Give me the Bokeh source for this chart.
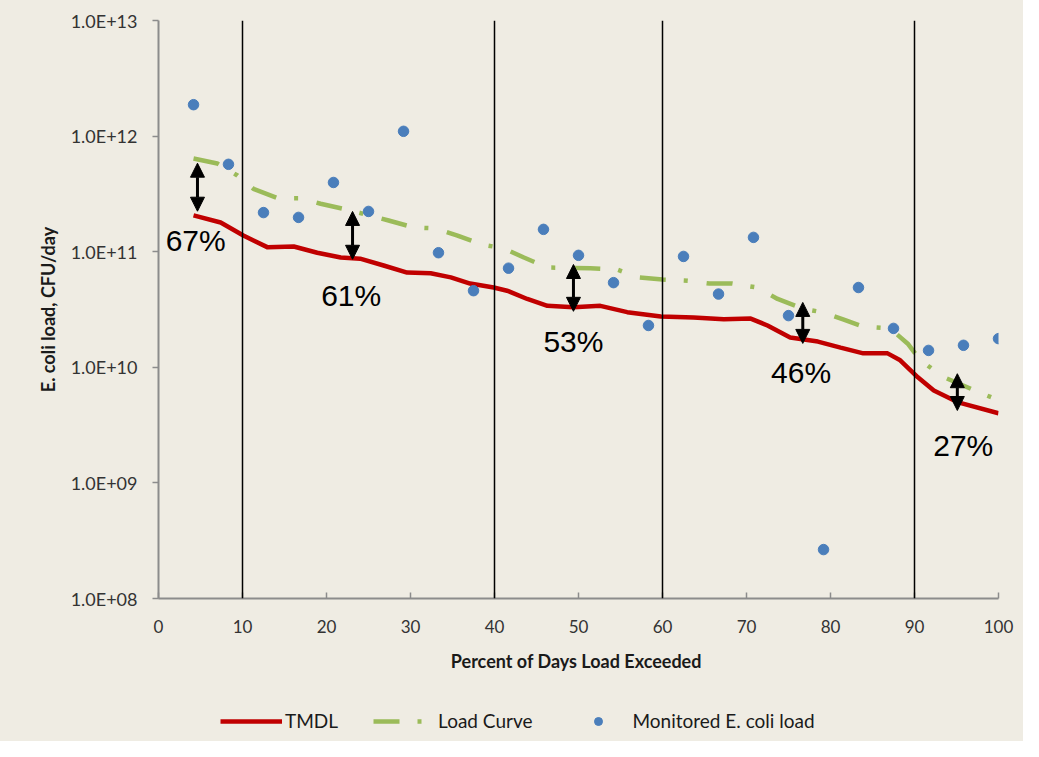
from bokeh.plotting import figure
from bokeh.layouts import column
from bokeh.models import (Span, Arrow, NormalHead, Legend, LegendItem,
                          FixedTicker, Range1d)
from bokeh.core.properties import value
from bokeh.embed import file_html
from bokeh.resources import INLINE

# ---------------- data ----------------
tmdl_x = [4.17, 7.4, 10.1, 13.0, 16.1, 18.9, 21.7, 24.0, 26.8, 29.6, 32.4, 34.8,
          37.1, 39.9, 41.5, 43.9, 46.3, 49.4, 52.6, 55.8, 59.8, 63.7, 67.3, 70.5,
          72.5, 75.2, 78.5, 81.2, 83.9, 86.8, 88.3, 90.4, 92.3, 95.1, 100]
tmdl_y = [2.06e11, 1.79e11, 1.38e11, 1.09e11, 1.11e11, 9.8e10, 8.9e10, 8.7e10,
          7.6e10, 6.6e10, 6.5e10, 6.0e10, 5.3e10, 4.9e10, 4.6e10, 3.9e10, 3.4e10,
          3.3e10, 3.4e10, 3.0e10, 2.75e10, 2.7e10, 2.6e10, 2.64e10, 2.3e10,
          1.81e10, 1.67e10, 1.48e10, 1.32e10, 1.32e10, 1.15e10, 8.2e9, 6.3e9,
          5.0e9, 4.0e9]

load_x = [4.17, 7.0, 9.4, 11.3, 14.2, 16.9, 19.3, 22.9, 27.4, 30.4, 33.0, 35.6,
          38.6, 41.1, 43.5, 46.3, 51.4, 54.6, 57.1, 60.0, 63.0, 65.6, 68.3, 71.3,
          73.7, 76.8, 79.0, 81.5, 83.9, 87.1, 89.2, 90.7, 93.5, 98.1, 100]
load_y = [6.4e11, 5.8e11, 4.56e11, 3.5e11, 2.9e11, 2.9e11, 2.6e11, 2.27e11,
          1.86e11, 1.62e11, 1.59e11, 1.38e11, 1.15e11, 1.07e11, 8.9e10, 7.3e10,
          7.2e10, 7.0e10, 6.0e10, 5.75e10, 5.6e10, 5.3e10, 5.3e10, 4.9e10,
          3.9e10, 3.2e10, 3.0e10, 2.6e10, 2.25e10, 2.17e10, 1.6e10, 1.15e10,
          8.2e9, 5.9e9, 5.2e9]

mon_x = [4.17, 8.33, 12.5, 16.67, 20.83, 25.0, 29.17, 33.33, 37.5, 41.67, 45.83,
         50.0, 54.17, 58.33, 62.5, 66.67, 70.83, 75.0, 79.17, 83.33, 87.5, 91.67,
         95.83, 100.0]
mon_y = [1.87e12, 5.7e11, 2.18e11, 1.98e11, 3.97e11, 2.23e11, 1.1e12, 9.8e10,
         4.6e10, 7.2e10, 1.56e11, 9.3e10, 5.4e10, 2.3e10, 9.1e10, 4.3e10, 1.33e11,
         2.8e10, 2.65e8, 4.9e10, 2.17e10, 1.4e10, 1.55e10, 1.77e10]

zone_bounds = [10, 40, 60, 90]

arrow_x = [4.64, 23.1, 49.4, 76.7, 95.1]
arrow_top = [5.83e11, 2.23e11, 7.75e10, 3.64e10, 8.8e9]
arrow_bottom = [2.24e11, 8.6e10, 3.05e10, 1.61e10, 4.23e9]

reduction_labels = ["67%", "61%", "53%", "46%", "27%"]
reduction_x = [4.43, 22.94, 49.4, 76.5, 95.8]
reduction_y = [1.25e11, 4.18e10, 1.68e10, 9.0e9, 2.11e9]

x_ticks = [0, 10, 20, 30, 40, 50, 60, 70, 80, 90, 100]
y_ticks = [1e8, 1e9, 1e10, 1e11, 1e12, 1e13]
y_tick_labels = ["1.0E+08", "1.0E+09", "1.0E+10", "1.0E+11", "1.0E+12", "1.0E+13"]

series_names = ["TMDL", "Load Curve", "Monitored E. coli load"]

# ---------------- style ----------------
BG = "#EFECE3"
FONT = "Lato"
RED = "#C00000"
GREEN = "#9BBB59"
BLUE = "#4A7EBB"
LOAD_DASH = "26 18 4 19"

p = figure(width=1023, height=690, y_axis_type="log",
           x_range=(0, 100), y_range=(1e8, 1e13),
           output_backend="svg", toolbar_location=None,
           background_fill_color=BG, border_fill_color=BG,
           min_border_left=158, min_border_right=25,
           min_border_top=20, min_border_bottom=92)
p.outline_line_color = None
p.grid.visible = False

# axes
p.xaxis.ticker = FixedTicker(ticks=x_ticks)
p.xaxis.minor_tick_line_color = None
p.xaxis.major_tick_in = 6
p.xaxis.major_tick_out = 0
p.xaxis.axis_line_color = "#8C8C8C"
p.xaxis.axis_line_width = 2
p.xaxis.major_tick_line_color = "#8C8C8C"
p.xaxis.major_tick_line_width = 1.5
p.xaxis.major_label_text_font = FONT
p.xaxis.major_label_text_font_size = "17px"
p.xaxis.major_label_text_color = "#333333"
p.xaxis.major_label_standoff = 21
p.xaxis.axis_label = "Percent of Days  Load Exceeded"
p.xaxis.axis_label_text_font = FONT
p.xaxis.axis_label_text_font_style = "bold"
p.xaxis.axis_label_text_font_size = "18px"
p.xaxis.axis_label_text_color = "#1a1a1a"
p.xaxis.axis_label_standoff = 14

p.yaxis.ticker = FixedTicker(ticks=y_ticks)
p.yaxis.major_label_overrides = {t: s for t, s in zip(y_ticks, y_tick_labels)}
p.yaxis.minor_tick_line_color = None
p.yaxis.major_tick_in = 0
p.yaxis.major_tick_out = 6
p.yaxis.axis_line_color = "#8C8C8C"
p.yaxis.axis_line_width = 2
p.yaxis.major_tick_line_color = "#8C8C8C"
p.yaxis.major_tick_line_width = 1.5
p.yaxis.major_label_text_font = FONT
p.yaxis.major_label_text_font_size = "18px"
p.yaxis.major_label_text_color = "#333333"
p.yaxis.major_label_standoff = 15
p.yaxis.axis_label = "E. coli load, CFU/day"
p.yaxis.axis_label_text_font = FONT
p.yaxis.axis_label_text_font_style = "bold"
p.yaxis.axis_label_text_font_size = "18px"
p.yaxis.axis_label_text_color = "#1a1a1a"
p.yaxis.axis_label_standoff = 9

# flow zone boundaries
for b in zone_bounds:
    p.add_layout(Span(location=b, dimension="height", line_color="black",
                      line_width=1.5))

# series
p.line(tmdl_x, tmdl_y, line_color=RED, line_width=4.5)
p.line(load_x, load_y, line_color=GREEN, line_width=4.5, line_dash=LOAD_DASH)
p.scatter(mon_x, mon_y, marker="circle", size=10.5,
          fill_color=BLUE, line_color=BLUE)

# reduction arrows
for ax, at, ab in zip(arrow_x, arrow_top, arrow_bottom):
    p.add_layout(Arrow(x_start=ax, y_start=ab, x_end=ax, y_end=at,
                       line_color="black", line_width=3,
                       start=NormalHead(size=14, fill_color="black", line_color="black"),
                       end=NormalHead(size=14, fill_color="black", line_color="black")))

p.text(reduction_x, reduction_y, text=reduction_labels,
       text_font=value("Liberation Sans"), text_font_size="30px",
       text_align="center", text_baseline="alphabetic", text_color="black")

# ---------------- legend strip (frame aligned with the chart) ----------------
lg = figure(width=1023, height=51, x_range=Range1d(0, 1), y_range=Range1d(0, 1),
            output_backend="svg", toolbar_location=None,
            background_fill_color=BG, border_fill_color=BG,
            min_border_left=158, min_border_right=25,
            min_border_top=0, min_border_bottom=0)
lg.axis.visible = False
lg.grid.visible = False
lg.outline_line_color = None
# legend keys: first point of each series, lying outside this strip's range
k1 = lg.line(tmdl_x[:1], tmdl_y[:1], line_color=RED, line_width=4.5)
k2 = lg.line(load_x[:1], load_y[:1], line_color=GREEN, line_width=4.5,
             line_dash=LOAD_DASH)
k3 = lg.scatter(mon_x[:1], mon_y[:1], marker="circle", size=10.5,
                fill_color=BLUE, line_color=BLUE)

legend = Legend(items=[LegendItem(label=series_names[0], renderers=[k1]),
                       LegendItem(label=series_names[1], renderers=[k2]),
                       LegendItem(label=series_names[2], renderers=[k3])],
                orientation="horizontal", location=(62, 9),
                glyph_width=62, glyph_height=20, label_standoff=3, spacing=35,
                padding=0, margin=0, border_line_color=None,
                background_fill_alpha=0,
                label_text_font=FONT, label_text_font_size="19px",
                label_text_color="#1a1a1a")
lg.add_layout(legend, "center")

layout = column(p, lg, spacing=0, styles={"background-color": BG})
open("out.html", "w").write(file_html(layout, INLINE))
